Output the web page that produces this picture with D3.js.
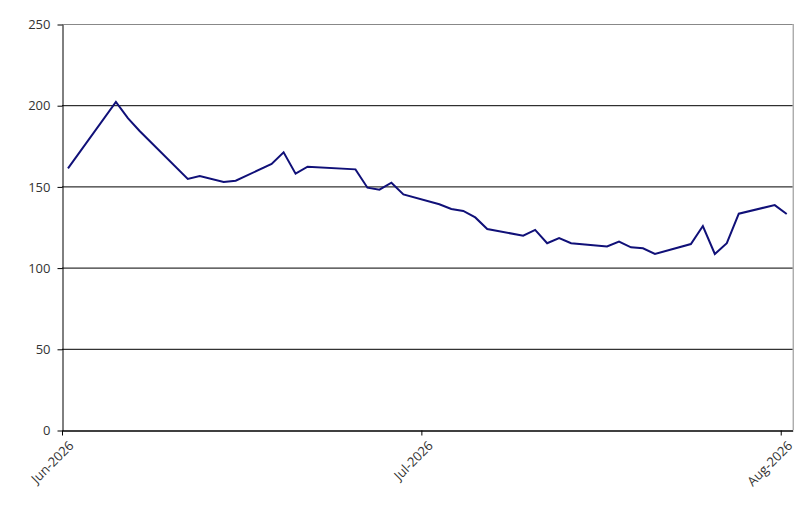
<!DOCTYPE html>
<html>
<head>
<meta charset="utf-8">
<script src="https://cdn.jsdelivr.net/npm/d3@7"></script>
<style>
  body { margin: 0; background: #fff; }
  text { font-family: "Open Sans", sans-serif; }
</style>
</head>
<body>
<svg id="chart" width="810" height="511"></svg>
<script>
// daily observations (dates plotted at mid-day)
const dates = [
  "2026-06-01", "2026-06-05", "2026-06-06", "2026-06-07", "2026-06-11", "2026-06-12",
  "2026-06-14", "2026-06-15", "2026-06-18", "2026-06-19", "2026-06-20", "2026-06-21",
  "2026-06-25", "2026-06-26", "2026-06-27", "2026-06-28", "2026-06-29", "2026-07-02",
  "2026-07-03", "2026-07-04", "2026-07-05", "2026-07-06", "2026-07-09", "2026-07-10",
  "2026-07-11", "2026-07-12", "2026-07-13", "2026-07-16", "2026-07-17", "2026-07-18",
  "2026-07-19", "2026-07-20", "2026-07-23", "2026-07-24", "2026-07-25", "2026-07-26",
  "2026-07-27", "2026-07-30", "2026-07-31"
];
const values = [
  161.1, 202.0, 192.0, 184.0, 154.6, 156.4,
  152.7, 153.5, 163.8, 171.0, 157.8, 162.1,
  160.5, 149.2, 148.0, 152.3, 145.1, 139.0,
  136.1, 134.9, 130.9, 123.8, 119.6, 123.2,
  115.0, 118.2, 115.0, 113.0, 116.0, 112.5,
  111.9, 108.4, 114.5, 125.6, 108.4, 115.0,
  133.2, 138.5, 133.0
];
const yTicks = [0, 50, 100, 150, 200, 250];
const xTickDates = ["2026-06-01", "2026-07-01", "2026-07-31"];
const xTickLabels = ["Jun-2026", "Jul-2026", "Aug-2026"];

const parse = d3.utcParse("%Y-%m-%d");
const width = 810, height = 511;
const margin = { top: 24, right: 17.3, bottom: 81, left: 62 };

const svg = d3.select("#chart");

const x = d3.scaleUtc()
  .domain([parse("2026-06-01"), parse("2026-08-01")])
  .range([margin.left, width - margin.right]);

const y = d3.scaleLinear()
  .domain([0, 250])
  .range([height - margin.bottom, margin.top]);

const series = dates.map((d, i) => ({ date: d3.utcHour.offset(parse(d), 12), value: values[i] }));

// gridlines
svg.append("g")
  .selectAll("line")
  .data(yTicks.filter(t => t > 0))
  .join("line")
  .attr("x1", margin.left).attr("x2", width - margin.right)
  .attr("y1", d => y(d) + 0.5).attr("y2", d => y(d) + 0.5)
  .attr("stroke", d => d === 250 ? "#888" : "#000")
  .attr("stroke-width", 1);

// right border
svg.append("line")
  .attr("x1", width - margin.right + 0.5).attr("x2", width - margin.right + 0.5)
  .attr("y1", margin.top).attr("y2", height - margin.bottom)
  .attr("stroke", "#888");

// y axis
const yAxis = svg.append("g")
  .attr("transform", `translate(${margin.left + 0.5},0.5)`)
  .call(d3.axisLeft(y).tickValues(yTicks).tickSize(5).tickPadding(7).tickSizeOuter(0));
yAxis.select(".domain").attr("stroke", "#000");
yAxis.selectAll(".tick line").attr("stroke", "#000");
yAxis.selectAll(".tick text")
  .attr("font-family", "Open Sans, sans-serif")
  .attr("font-size", 13)
  .attr("fill", "#333");

// x axis
const xAxis = svg.append("g")
  .attr("transform", `translate(0,${height - margin.bottom + 0.5})`)
  .call(d3.axisBottom(x)
    .tickValues(xTickDates.map(parse))
    .tickFormat((d, i) => xTickLabels[i])
    .tickSize(5).tickSizeOuter(0));
xAxis.select(".domain").attr("stroke", "#000").attr("stroke-width", 1.5);
xAxis.selectAll(".tick line").attr("stroke", "#000");
xAxis.selectAll(".tick text")
  .attr("font-family", "Open Sans, sans-serif")
  .attr("font-size", 13)
  .attr("fill", "#333")
  .attr("text-anchor", "end")
  .attr("dy", null)
  .attr("transform", "translate(12,16) rotate(-45)")
  .attr("x", 0).attr("y", 0);

// series line
svg.append("path")
  .datum(series)
  .attr("fill", "none")
  .attr("stroke", "#101078")
  .attr("stroke-width", 2)
  .attr("stroke-linejoin", "miter")
  .attr("d", d3.line().x(d => x(d.date)).y(d => y(d.value)));
</script>
</body>
</html>
